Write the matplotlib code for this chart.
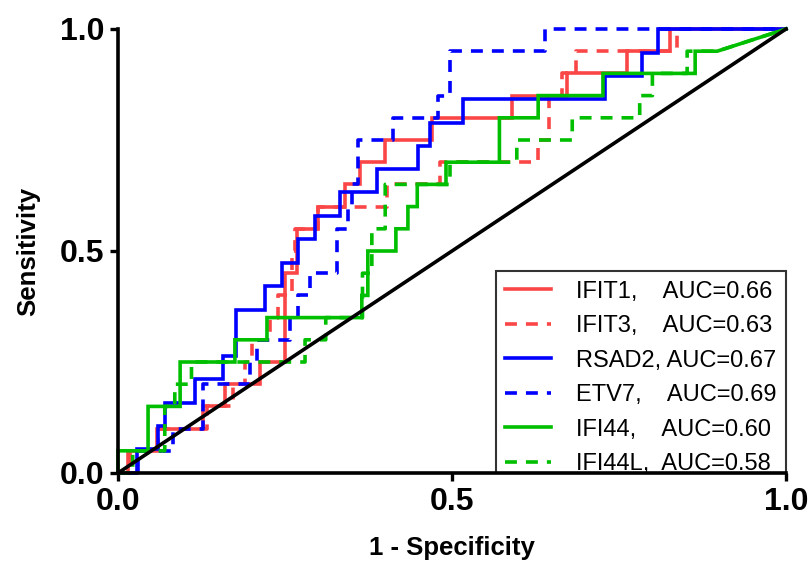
import matplotlib
matplotlib.use("Agg")
import matplotlib.pyplot as plt
from matplotlib.transforms import Bbox, TransformedBbox

plt.rcParams['font.family'] = ['Liberation Sans', 'DejaVu Sans']

# ---- data ----
names = ["IFIT1", "IFIT3", "RSAD2", "ETV7", "IFI44", "IFI44L"]
legend_labels = ["IFIT1,    AUC=0.66", "IFIT3,    AUC=0.63", "RSAD2, AUC=0.67",
                 "ETV7,    AUC=0.69", "IFI44,    AUC=0.60", "IFI44L,  AUC=0.58"]

# 1-specificity at which each rise occurs, and sensitivity after the rise
ifit1_fpr = [0.015, 0.058, 0.127, 0.160, 0.213, 0.250, 0.268, 0.300, 0.340, 0.362,
             0.400, 0.470, 0.590, 0.672, 0.762, 0.826]
ifit1_tpr = [0.05, 0.10, 0.15, 0.20, 0.25, 0.45, 0.55, 0.60, 0.65, 0.70,
             0.75, 0.80, 0.85, 0.90, 0.95, 1.00]

ifit3_fpr = [0.018, 0.060, 0.133, 0.172, 0.190, 0.200, 0.228, 0.240, 0.260, 0.265,
             0.300, 0.403, 0.482, 0.629, 0.645, 0.665, 0.686, 0.837]
ifit3_tpr = [0.05, 0.10, 0.15, 0.20, 0.25, 0.30, 0.35, 0.40, 0.50, 0.55,
             0.60, 0.65, 0.70, 0.75, 0.85, 0.90, 0.95, 1.00]

rsad2_fpr = [0.028, 0.060, 0.070, 0.115, 0.157, 0.176, 0.220, 0.245, 0.269, 0.295,
             0.332, 0.388, 0.449, 0.467, 0.516, 0.729, 0.784, 0.808]
rsad2_tpr = [0.053, 0.105, 0.158, 0.211, 0.263, 0.368, 0.421, 0.474, 0.526, 0.579,
             0.632, 0.684, 0.737, 0.789, 0.842, 0.895, 0.947, 1.000]

etv7_fpr = [0.030, 0.083, 0.127, 0.198, 0.208, 0.257, 0.269, 0.287, 0.328, 0.344,
            0.350, 0.359, 0.412, 0.479, 0.497, 0.639]
etv7_tpr = [0.05, 0.10, 0.20, 0.25, 0.30, 0.35, 0.40, 0.45, 0.55, 0.60,
            0.65, 0.75, 0.80, 0.85, 0.95, 1.00]

ifi44_fpr = [0.000, 0.045, 0.093, 0.175, 0.223, 0.365, 0.374, 0.416, 0.434, 0.448,
             0.491, 0.571, 0.629, 0.726, 0.864]
ifi44_tpr = [0.05, 0.15, 0.25, 0.30, 0.35, 0.40, 0.50, 0.55, 0.60, 0.65,
             0.70, 0.80, 0.85, 0.90, 0.95]
ifi44_last_fpr = 0.897

ifi44l_fpr = [0.022, 0.070, 0.085, 0.110, 0.280, 0.311, 0.366, 0.380, 0.400, 0.497,
              0.597, 0.680, 0.781, 0.800, 0.852]
ifi44l_tpr = [0.05, 0.15, 0.20, 0.25, 0.30, 0.35, 0.45, 0.55, 0.65, 0.70,
              0.75, 0.80, 0.85, 0.90, 0.95]
ifi44l_last_fpr = 0.897

series_fpr = [ifit1_fpr, ifit3_fpr, rsad2_fpr, etv7_fpr, ifi44_fpr, ifi44l_fpr]
series_tpr = [ifit1_tpr, ifit3_tpr, rsad2_tpr, etv7_tpr, ifi44_tpr, ifi44l_tpr]
series_last = [1.0, 1.0, 1.0, 1.0, ifi44_last_fpr, ifi44l_last_fpr]

RED = "#FA4646"
BLUE = "#0000FF"
GREEN = "#00BE00"
colors = [RED, RED, BLUE, BLUE, GREEN, GREEN]
dashed = [False, True, False, True, False, True]

xticks = [0.0, 0.5, 1.0]
xticklabels = ["0.0", "0.5", "1.0"]
yticks = [0.0, 0.5, 1.0]
yticklabels = ["0.0", "0.5", "1.0"]


def roc_path(rise_x, levels, last_x):
    xs, ys = [0.0], [0.0]
    for x, y in zip(rise_x, levels):
        xs += [x, x]
        ys += [ys[-1], y]
    xs.append(last_x)
    ys.append(ys[-1])
    if ys[-1] < 1.0 or xs[-1] < 1.0:
        xs.append(1.0)
        ys.append(1.0)
    return xs, ys


fig = plt.figure(figsize=(8.11, 5.68), dpi=100)
ax = fig.add_axes([118 / 811, 1 - 473 / 568, (786 - 118) / 811, (473 - 29) / 568])

for fpr, tpr, last, c, d, lab in zip(series_fpr, series_tpr, series_last,
                                     colors, dashed, legend_labels):
    xs, ys = roc_path(fpr, tpr, last)
    ls = (0, (3.3, 2.5)) if d else "-"
    ax.plot(xs, ys, color=c, lw=2.6, linestyle=ls, label=lab,
            clip_on=False, solid_joinstyle="miter", zorder=3)

ax.plot([0, 1], [0, 1], color="black", lw=2.6, clip_on=False, zorder=4)

ax.set_xlim(0, 1)
ax.set_ylim(0, 1)
for s in ["top", "right"]:
    ax.spines[s].set_visible(False)
for s in ["left", "bottom"]:
    ax.spines[s].set_linewidth(2.6)
    ax.spines[s].set_zorder(6)

ax.set_xticks(xticks)
ax.set_xticklabels(xticklabels, fontsize=23, fontweight="bold")
ax.set_yticks(yticks)
ax.set_yticklabels(yticklabels, fontsize=23, fontweight="bold")
ax.tick_params(direction="out", length=6, width=2.4, pad=4)

ax.set_xlabel("1 - Specificity", fontsize=18.5, fontweight="bold", labelpad=14)
ax.set_ylabel("Sensitivity", fontsize=18.5, fontweight="bold", labelpad=14)

leg = ax.legend(loc="lower right", bbox_to_anchor=(1.0, -0.026), fontsize=17,
                frameon=True, fancybox=False, edgecolor="black",
                handlelength=1.95, handletextpad=1.05, borderpad=0.4,
                labelspacing=0.53, borderaxespad=0)
leg.get_frame().set_linewidth(1.5)
leg.set_zorder(5)
# the box is cut off by the x axis, as in the reference
leg.legendPatch.set_clip_box(TransformedBbox(Bbox([[-0.1, 0.0], [1.1, 1.1]]),
                                             ax.transAxes))
leg.legendPatch.set_clip_on(True)

fig.savefig("out.png", dpi=100)
